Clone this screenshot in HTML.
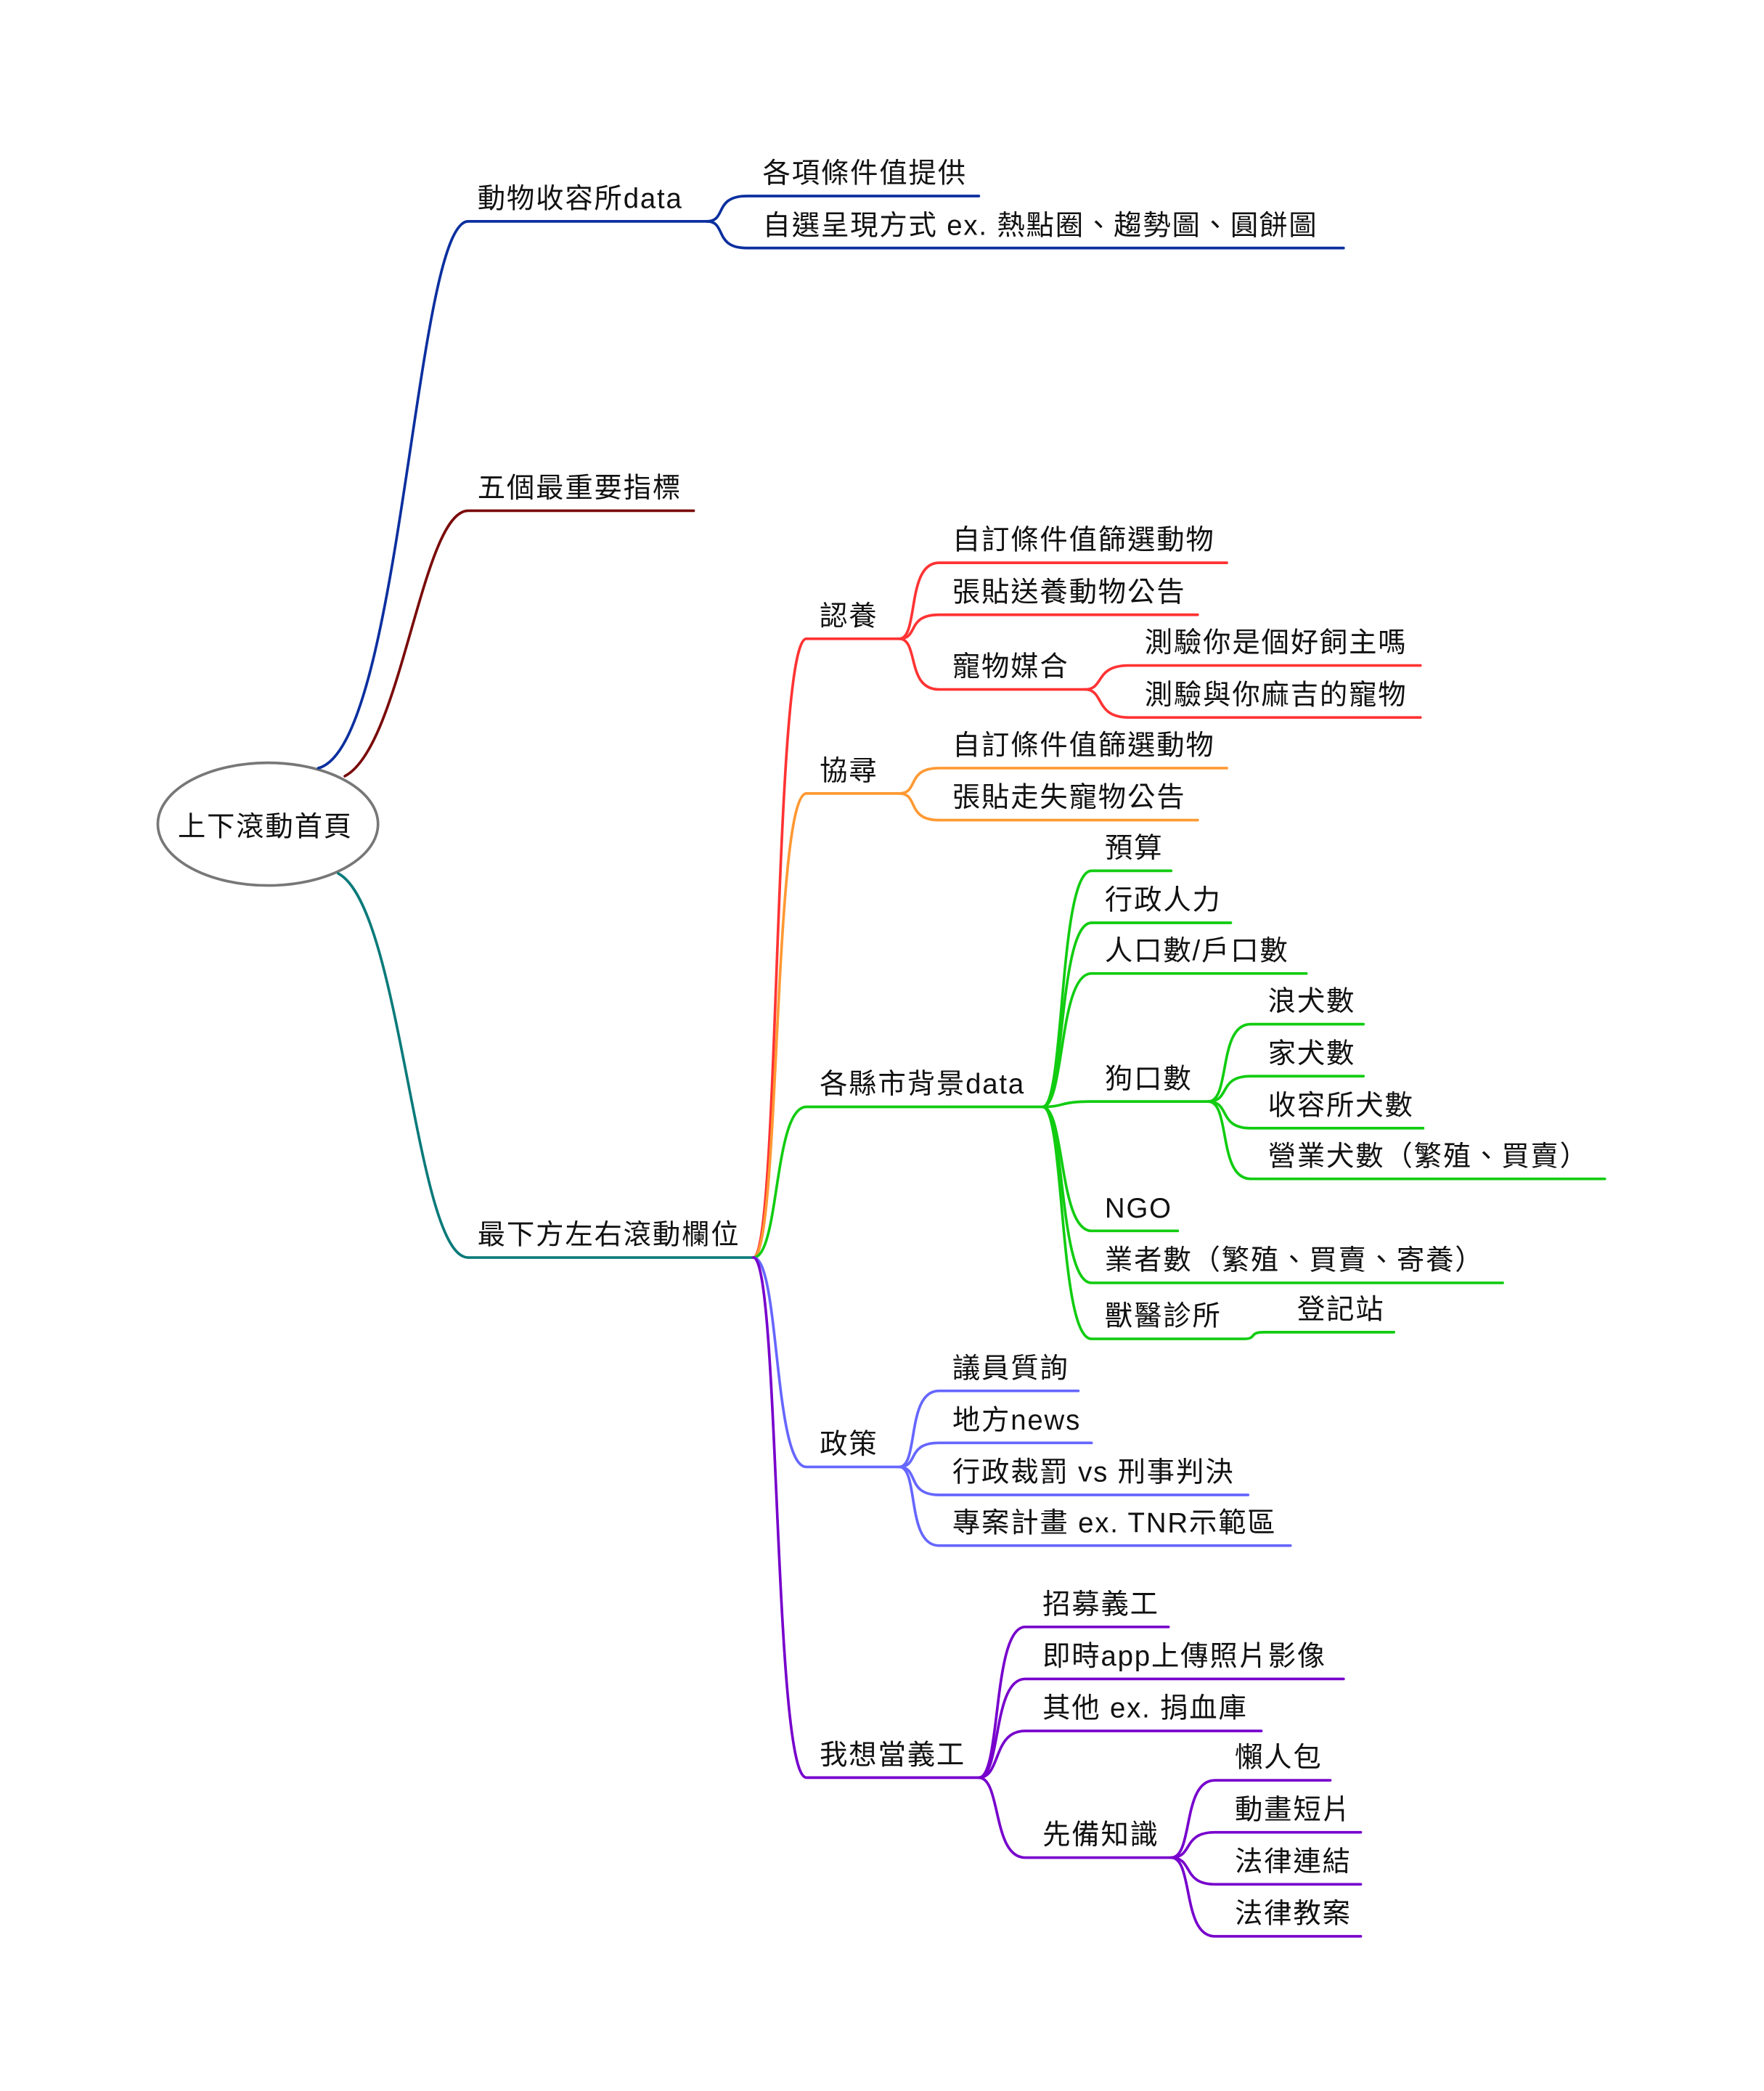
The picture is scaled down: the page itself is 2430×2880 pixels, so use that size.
<!DOCTYPE html>
<html><head><meta charset="utf-8"><style>
html,body{margin:0;padding:0;background:#fff;}
svg{display:block;}
text{font-family:"Liberation Sans","Noto Sans CJK TC",sans-serif;font-size:21px;letter-spacing:1px;fill:#111;}
path{fill:none;stroke-width:2;stroke-linecap:round;}
</style></head><body>
<svg width="2430" height="2880" viewBox="0 0 1330 1568" preserveAspectRatio="none" xmlns="http://www.w3.org/2000/svg">
<g transform="translate(3,0)">
<ellipse cx="199" cy="618" rx="83" ry="46" fill="#fff" stroke="#777" stroke-width="2"/>
<text x="131" y="627">上下滾動首頁</text>

<path stroke="#0b2f9f" d="M237 576 C300 560,310 166,350 166 H530"/>
<text x="357" y="156">動物收容所data</text>
<path stroke="#7a0a0a" d="M257 582 C300 560,315 383,350 383 H520"/>
<text x="357" y="373">五個最重要指標</text>
<path stroke="#0a7a7a" d="M252 655 C300 680,310 943,350 943 H565"/>
<text x="357" y="933">最下方左右滾動欄位</text>

<path stroke="#0b2f9f" d="M530 166 C545 166,535 147,560 147 H735"/>
<path stroke="#0b2f9f" d="M530 166 C545 166,535 186,560 186 H1010"/>
<text x="572" y="137">各項條件值提供</text>
<text x="572" y="176">自選呈現方式 ex. 熱點圈、趨勢圖、圓餅圖</text>

<path stroke="#f33" d="M565 943 C585 943,580 479,605 479 H675"/>
<text x="615" y="469">認養</text>
<path stroke="#f33" d="M675 479 C690 479,680 422,705 422 H922"/>
<path stroke="#f33" d="M675 479 C690 479,680 461,705 461 H900"/>
<path stroke="#f33" d="M675 479 C690 479,680 517,705 517 H815"/>
<text x="715" y="412">自訂條件值篩選動物</text>
<text x="715" y="451">張貼送養動物公告</text>
<text x="715" y="507">寵物媒合</text>
<path stroke="#f33" d="M815 517 C830 517,822 499,848 499 H1068"/>
<path stroke="#f33" d="M815 517 C830 517,822 538,848 538 H1068"/>
<text x="860" y="489">測驗你是個好飼主嗎</text>
<text x="860" y="528">測驗與你麻吉的寵物</text>

<path stroke="#f93" d="M565 943 C585 943,580 595,605 595 H675"/>
<text x="615" y="585">協尋</text>
<path stroke="#f93" d="M675 595 C690 595,680 576,705 576 H922"/>
<path stroke="#f93" d="M675 595 C690 595,680 615,705 615 H900"/>
<text x="715" y="566">自訂條件值篩選動物</text>
<text x="715" y="605">張貼走失寵物公告</text>

<path stroke="#1c1" d="M565 943 C585 943,580 830,605 830 H783"/>
<text x="615" y="820">各縣市背景data</text>
<path stroke="#1c1" d="M783 830 C800 830,795 653,820 653 H880"/>
<path stroke="#1c1" d="M783 830 C800 830,795 692,820 692 H925"/>
<path stroke="#1c1" d="M783 830 C800 830,795 730,820 730 H982"/>
<path stroke="#1c1" d="M783 830 C800 830,795 826,820 826 H908"/>
<path stroke="#1c1" d="M783 830 C800 830,795 923,820 923 H885"/>
<path stroke="#1c1" d="M783 830 C800 830,795 962,820 962 H1130"/>
<path stroke="#1c1" d="M783 830 C800 830,795 1004,820 1004 H935 C945 1004,938 999,950 999 H1048"/>
<text x="830" y="643">預算</text>
<text x="830" y="682">行政人力</text>
<text x="830" y="720">人口數/戶口數</text>
<text x="830" y="816">狗口數</text>
<text x="830" y="913">NGO</text>
<text x="830" y="952">業者數（繁殖、買賣、寄養）</text>
<text x="830" y="994">獸醫診所</text>
<text x="975" y="989">登記站</text>
<path stroke="#1c1" d="M908 826 C925 826,915 768,940 768 H1025"/>
<path stroke="#1c1" d="M908 826 C925 826,915 807,940 807 H1025"/>
<path stroke="#1c1" d="M908 826 C925 826,915 846,940 846 H1070"/>
<path stroke="#1c1" d="M908 826 C925 826,915 884,940 884 H1207"/>
<text x="953" y="758">浪犬數</text>
<text x="953" y="797">家犬數</text>
<text x="953" y="836">收容所犬數</text>
<text x="953" y="874">營業犬數（繁殖、買賣）</text>

<path stroke="#66f" d="M565 943 C585 943,580 1100,605 1100 H675"/>
<text x="615" y="1090">政策</text>
<path stroke="#66f" d="M675 1100 C690 1100,680 1043,705 1043 H810"/>
<path stroke="#66f" d="M675 1100 C690 1100,680 1082,705 1082 H820"/>
<path stroke="#66f" d="M675 1100 C690 1100,680 1121,705 1121 H938"/>
<path stroke="#66f" d="M675 1100 C690 1100,680 1159,705 1159 H970"/>
<text x="715" y="1033">議員質詢</text>
<text x="715" y="1072">地方news</text>
<text x="715" y="1111">行政裁罰 vs 刑事判決</text>
<text x="715" y="1149">專案計畫 ex. TNR示範區</text>

<path stroke="#70c" d="M565 943 C585 943,580 1333,605 1333 H735"/>
<text x="615" y="1323">我想當義工</text>
<path stroke="#70c" d="M735 1333 C752 1333,745 1220,770 1220 H878"/>
<path stroke="#70c" d="M735 1333 C752 1333,745 1259,770 1259 H1010"/>
<path stroke="#70c" d="M735 1333 C752 1333,745 1298,770 1298 H948"/>
<path stroke="#70c" d="M735 1333 C752 1333,745 1393,770 1393 H880"/>
<text x="783" y="1210">招募義工</text>
<text x="783" y="1249">即時app上傳照片影像</text>
<text x="783" y="1288">其他 ex. 捐血庫</text>
<text x="783" y="1383">先備知識</text>
<path stroke="#70c" d="M880 1393 C897 1393,888 1335,913 1335 H1000"/>
<path stroke="#70c" d="M880 1393 C897 1393,888 1374,913 1374 H1023"/>
<path stroke="#70c" d="M880 1393 C897 1393,888 1413,913 1413 H1023"/>
<path stroke="#70c" d="M880 1393 C897 1393,888 1452,913 1452 H1023"/>
<text x="928" y="1325">懶人包</text>
<text x="928" y="1364">動畫短片</text>
<text x="928" y="1403">法律連結</text>
<text x="928" y="1442">法律教案</text>
</g>
</svg>
</body></html>
